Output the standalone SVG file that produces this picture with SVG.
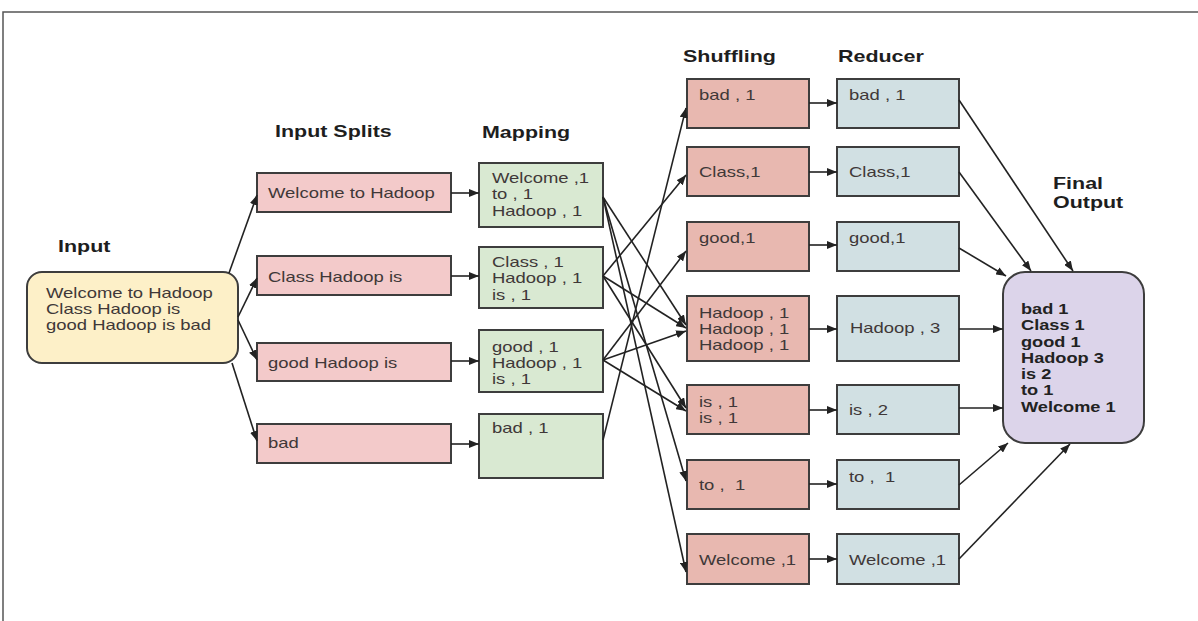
<svg xmlns="http://www.w3.org/2000/svg" width="1198" height="621" viewBox="0 0 1198 621">
<defs>
<marker id="ah" viewBox="0 0 10 8" refX="10" refY="4" markerWidth="10" markerHeight="8" markerUnits="userSpaceOnUse" orient="auto">
<path d="M0,0 L10,4 L0,8 z" fill="#222"/>
</marker>
<style>
.b{stroke:#3d3d3d;stroke-width:2}
.inp{fill:#fdf0c8}
.spl{fill:#f3caca}
.map{fill:#d9e9d2}
.shu{fill:#e8b8b0}
.red{fill:#d1e0e3}
.fin{fill:#dcd4ea}
.t{font-family:"Liberation Sans",Arial,sans-serif;font-size:14.2px;fill:#403838}
.h{font-family:"Liberation Sans",Arial,sans-serif;font-size:16.5px;font-weight:bold;fill:#1e1e1e}
.f{font-family:"Liberation Sans",Arial,sans-serif;font-size:14px;font-weight:bold;fill:#222}
.c line{stroke:#222;stroke-width:1.6;marker-end:url(#ah)}
</style>
</defs>
<rect width="1198" height="621" fill="#ffffff"/>
<path d="M3,621 V12 H1198" fill="none" stroke="#555" stroke-width="1.5"/>

<g id="headers">
<text class="h" transform="translate(58,252) scale(1.3,1)">Input</text>
<text class="h" transform="translate(275,137) scale(1.3,1)">Input Splits</text>
<text class="h" transform="translate(482,138) scale(1.3,1)">Mapping</text>
<text class="h" transform="translate(683,62) scale(1.3,1)">Shuffling</text>
<text class="h" transform="translate(838,62) scale(1.3,1)">Reducer</text>
<text class="h" transform="translate(1053,189) scale(1.3,1)">Final<tspan x="0" dy="19">Output</tspan></text>
</g>

<g id="input">
<rect class="b inp" x="27" y="272" width="211" height="91" rx="15"/>
<text class="t" transform="translate(46,298) scale(1.3,1)">Welcome to Hadoop<tspan x="0" dy="16">Class Hadoop is</tspan><tspan x="0" dy="16">good Hadoop is bad</tspan></text>
</g>

<g id="split1"><rect class="b spl" x="257" y="173" width="194" height="39"/><text class="t" transform="translate(268,198) scale(1.3,1)">Welcome to Hadoop</text></g>
<g id="split2"><rect class="b spl" x="257" y="256" width="194" height="39"/><text class="t" transform="translate(268,282) scale(1.3,1)">Class Hadoop is</text></g>
<g id="split3"><rect class="b spl" x="257" y="343" width="194" height="38"/><text class="t" transform="translate(268,368) scale(1.3,1)">good Hadoop is</text></g>
<g id="split4"><rect class="b spl" x="257" y="424" width="194" height="39"/><text class="t" transform="translate(268,448) scale(1.3,1)">bad</text></g>

<g id="map1"><rect class="b map" x="479" y="163" width="124" height="64"/><text class="t" transform="translate(492,183) scale(1.3,1)">Welcome ,1<tspan x="0" dy="16.5">to , 1</tspan><tspan x="0" dy="16.5">Hadoop , 1</tspan></text></g>
<g id="map2"><rect class="b map" x="479" y="247" width="124" height="61"/><text class="t" transform="translate(492,267) scale(1.3,1)">Class , 1<tspan x="0" dy="16.5">Hadoop , 1</tspan><tspan x="0" dy="16.5">is , 1</tspan></text></g>
<g id="map3"><rect class="b map" x="479" y="330" width="124" height="62"/><text class="t" transform="translate(492,352) scale(1.3,1)">good , 1<tspan x="0" dy="16">Hadoop , 1</tspan><tspan x="0" dy="16">is , 1</tspan></text></g>
<g id="map4"><rect class="b map" x="479" y="414" width="124" height="64"/><text class="t" transform="translate(492,433) scale(1.3,1)">bad , 1</text></g>

<g id="shu1"><rect class="b shu" x="687" y="79" width="122" height="49"/><text class="t" transform="translate(699,100) scale(1.3,1)">bad , 1</text></g>
<g id="shu2"><rect class="b shu" x="687" y="147" width="122" height="49"/><text class="t" transform="translate(699,177) scale(1.3,1)">Class,1</text></g>
<g id="shu3"><rect class="b shu" x="687" y="222" width="122" height="49"/><text class="t" transform="translate(699,243) scale(1.3,1)">good,1</text></g>
<g id="shu4"><rect class="b shu" x="687" y="296" width="122" height="65"/><text class="t" transform="translate(699,318) scale(1.3,1)">Hadoop , 1<tspan x="0" dy="16">Hadoop , 1</tspan><tspan x="0" dy="16">Hadoop , 1</tspan></text></g>
<g id="shu5"><rect class="b shu" x="687" y="385" width="122" height="49"/><text class="t" transform="translate(699,407) scale(1.3,1)">is , 1<tspan x="0" dy="16">is , 1</tspan></text></g>
<g id="shu6"><rect class="b shu" x="687" y="460" width="122" height="49"/><text class="t" xml:space="preserve" transform="translate(699,490) scale(1.3,1)">to ,  1</text></g>
<g id="shu7"><rect class="b shu" x="687" y="534" width="122" height="50"/><text class="t" transform="translate(699,565) scale(1.3,1)">Welcome ,1</text></g>

<g id="red1"><rect class="b red" x="837" y="79" width="122" height="49"/><text class="t" transform="translate(849,100) scale(1.3,1)">bad , 1</text></g>
<g id="red2"><rect class="b red" x="837" y="147" width="122" height="49"/><text class="t" transform="translate(849,177) scale(1.3,1)">Class,1</text></g>
<g id="red3"><rect class="b red" x="837" y="222" width="122" height="49"/><text class="t" transform="translate(849,243) scale(1.3,1)">good,1</text></g>
<g id="red4"><rect class="b red" x="837" y="296" width="122" height="65"/><text class="t" transform="translate(850,333) scale(1.3,1)">Hadoop , 3</text></g>
<g id="red5"><rect class="b red" x="837" y="385" width="122" height="49"/><text class="t" transform="translate(849,415) scale(1.3,1)">is , 2</text></g>
<g id="red6"><rect class="b red" x="837" y="460" width="122" height="49"/><text class="t" xml:space="preserve" transform="translate(849,482) scale(1.3,1)">to ,  1</text></g>
<g id="red7"><rect class="b red" x="837" y="534" width="122" height="50"/><text class="t" transform="translate(849,565) scale(1.3,1)">Welcome ,1</text></g>

<g id="final">
<rect class="b fin" x="1003" y="272" width="141" height="171" rx="22"/>
<text class="f" transform="translate(1021,314) scale(1.3,1)">bad 1<tspan x="0" dy="16.3">Class 1</tspan><tspan x="0" dy="16.3">good 1</tspan><tspan x="0" dy="16.3">Hadoop 3</tspan><tspan x="0" dy="16.3">is 2</tspan><tspan x="0" dy="16.3">to 1</tspan><tspan x="0" dy="16.3">Welcome 1</tspan></text>
</g>

<g id="connectors" class="c">
<line x1="229" y1="273" x2="257" y2="195"/>
<line x1="238" y1="317" x2="257" y2="278"/>
<line x1="238" y1="320" x2="257" y2="360"/>
<line x1="232" y1="363" x2="257" y2="441"/>

<line x1="451" y1="193" x2="479" y2="193"/>
<line x1="451" y1="276" x2="479" y2="276"/>
<line x1="451" y1="361" x2="479" y2="361"/>
<line x1="451" y1="444" x2="479" y2="444"/>

<line x1="603" y1="197" x2="686" y2="325"/>
<line x1="603" y1="197" x2="686" y2="481"/>
<line x1="603" y1="197" x2="686" y2="572"/>
<line x1="603" y1="276" x2="686" y2="175"/>
<line x1="603" y1="276" x2="686" y2="328"/>
<line x1="603" y1="276" x2="686" y2="408"/>
<line x1="603" y1="360" x2="686" y2="251"/>
<line x1="603" y1="360" x2="686" y2="331"/>
<line x1="603" y1="360" x2="686" y2="411"/>
<line x1="603" y1="440" x2="686" y2="108"/>

<line x1="809" y1="103" x2="837" y2="103"/>
<line x1="809" y1="172" x2="837" y2="172"/>
<line x1="809" y1="245" x2="837" y2="245"/>
<line x1="809" y1="329" x2="837" y2="329"/>
<line x1="809" y1="410" x2="837" y2="410"/>
<line x1="809" y1="484" x2="837" y2="484"/>
<line x1="809" y1="559" x2="837" y2="559"/>

<line x1="959" y1="100" x2="1073" y2="271"/>
<line x1="959" y1="172" x2="1031" y2="271"/>
<line x1="959" y1="248" x2="1006" y2="276"/>
<line x1="959" y1="329" x2="1003" y2="329"/>
<line x1="959" y1="408" x2="1003" y2="408"/>
<line x1="959" y1="485" x2="1008" y2="443"/>
<line x1="959" y1="559" x2="1070" y2="444"/>
</g>
</svg>
